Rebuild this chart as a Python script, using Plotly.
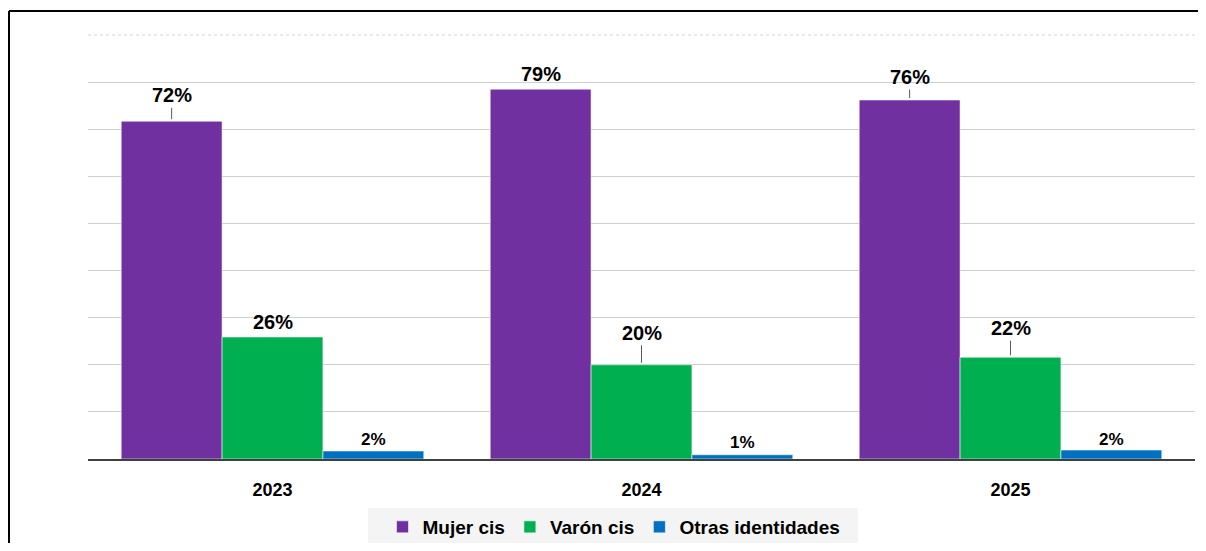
import plotly.graph_objects as go

years = ["2023", "2024", "2025"]
series_names = ["Mujer cis", "Varón cis", "Otras identidades"]
mujer_cis = [71.7, 78.5, 76.2]
varon_cis = [25.9, 20.0, 21.6]
otras = [1.7, 0.9, 1.9]
labels_mujer = ["72%", "79%", "76%"]
labels_varon = ["26%", "20%", "22%"]
labels_otras = ["2%", "1%", "2%"]

colors = ["#7030A0", "#00B050", "#0070C0"]
# label offsets above bar top (px) and whether a leader line is drawn
label_offsets = [[26, 15, 23], [15, 32, 29], [11, 12, 11]]
leaders = [[True, False, True], [False, True, True], [False, False, False]]
label_sizes = [20, 20, 17]

# page has an 8px body margin, so the figure is smaller than the window
W, H = 1198, 535
ML, MR, MT, MB = 80, 11, 27, 84
pw, ph = W - ML - MR, H - MT - MB
BARGAP = 0.18

fig = go.Figure()
all_vals = [mujer_cis, varon_cis, otras]
all_labels = [labels_mujer, labels_varon, labels_otras]
for j, (name, vals) in enumerate(zip(series_names, all_vals)):
    fig.add_trace(go.Bar(
        x=years, y=vals, name=name,
        marker=dict(color=colors[j], line=dict(color="rgba(255,255,255,0.55)", width=1)),
        hoverinfo="skip",
    ))

bw = (1 - BARGAP) / 3
for j in range(3):
    for i in range(3):
        xpos = i + (j - 1) * bw
        yval = all_vals[j][i]
        off = label_offsets[j][i]
        font = dict(family="Liberation Sans, Arial, sans-serif", size=label_sizes[j],
                    color="#000000", weight="bold")
        if leaders[j][i]:
            fig.add_annotation(x=xpos, y=yval, xref="x", yref="y", text=all_labels[j][i],
                               showarrow=True, arrowhead=0, arrowwidth=1, arrowcolor="#595959",
                               ax=0, ay=-off, standoff=2, font=font)
        else:
            fig.add_annotation(x=xpos, y=yval, xref="x", yref="y", text=all_labels[j][i],
                               showarrow=False, yshift=off, font=font)

def px_x(p):
    return (p - ML) / pw

def px_y(p):
    return 1 - (p - MT) / ph

# outer frame (left and top edges)
fig.add_shape(type="line", xref="paper", yref="paper", x0=px_x(1), x1=px_x(1),
              y0=px_y(H), y1=px_y(3), line=dict(color="#000000", width=2))
fig.add_shape(type="line", xref="paper", yref="paper", x0=px_x(1), x1=px_x(W),
              y0=px_y(3), y1=px_y(3), line=dict(color="#000000", width=2))
# top (dotted) gridline
fig.add_shape(type="line", xref="paper", yref="paper", x0=0, x1=1, y0=1, y1=1,
              line=dict(color="#d6d6d6", width=1, dash="dot"))
# legend background box
fig.add_shape(type="rect", xref="paper", yref="paper", x0=px_x(360), x1=px_x(850),
              y0=px_y(538), y1=px_y(500), line=dict(width=0), fillcolor="#f4f4f4", layer="below")

fig.update_layout(
    width=W, height=H,
    margin=dict(l=ML, r=MR, t=MT, b=MB, pad=0, autoexpand=False),
    paper_bgcolor="white", plot_bgcolor="rgba(0,0,0,0)",
    barmode="group", bargap=BARGAP, bargroupgap=0,
    font=dict(family="Liberation Sans, Arial, sans-serif", color="#000000"),
    showlegend=True,
    legend=dict(orientation="h", x=px_x(606), xanchor="center",
                y=px_y(500), yanchor="top",
                bgcolor="rgba(0,0,0,0)", font=dict(size=19, weight="bold"),
                itemwidth=30, tracegroupgap=0),
    xaxis=dict(showline=True, linecolor="#404040", linewidth=2, automargin=False,
               tickfont=dict(size=18, weight="bold"), ticks="", ticklabelstandoff=13,
               showgrid=False, zeroline=False),
    yaxis=dict(range=[0, 90], dtick=10, showticklabels=False, showgrid=True, automargin=False,
               gridcolor="#cfcfcf", gridwidth=1, zeroline=False, showline=False, ticks=""),
)

fig.write_html("out.html")
